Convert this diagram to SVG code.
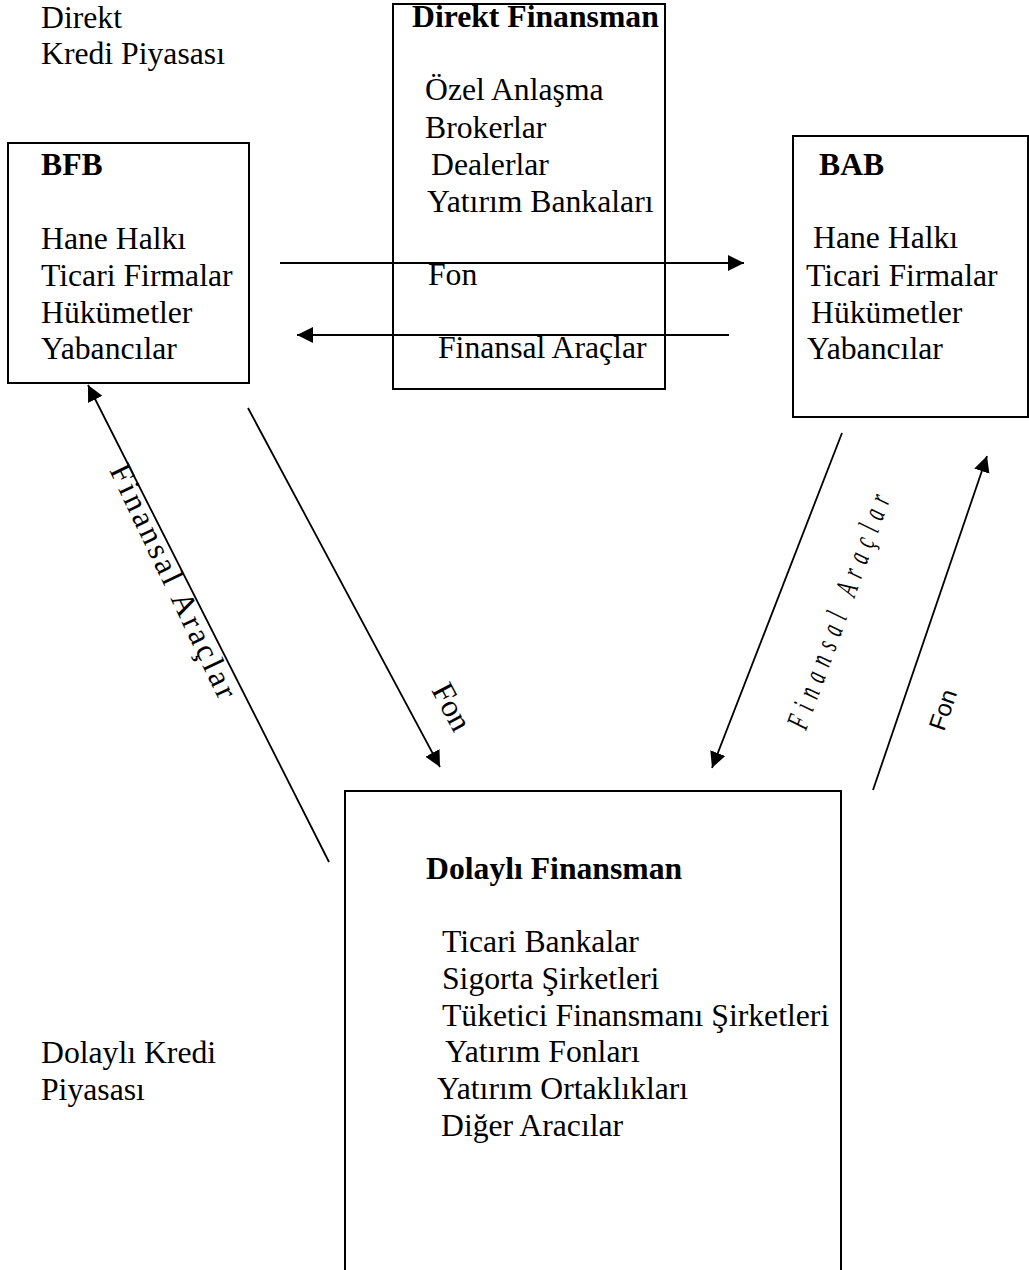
<svg xmlns="http://www.w3.org/2000/svg" width="1029" height="1270" viewBox="0 0 1029 1270">
<defs>
<style>
.t{font-family:"Liberation Serif","Times New Roman",serif;font-size:31.7px;fill:#000}
.b{font-weight:bold}
.box{fill:none;stroke:#000;stroke-width:2}
.c{fill:none;stroke:#000;stroke-width:1.8}
</style>
<marker id="ah" markerUnits="userSpaceOnUse" markerWidth="17" markerHeight="17" refX="16" refY="8" orient="auto" viewBox="0 0 17 16">
<path d="M0,0 L16,8 L0,16 Z" fill="#000"/>
</marker>
</defs>
<rect width="1029" height="1270" fill="#fff"/>

<g id="labels-top">
<text class="t" x="41" y="28">Direkt</text>
<text class="t" x="41" y="64">Kredi Piyasası</text>
</g>

<g id="bfb">
<rect class="box" x="8" y="143" width="241" height="240"/>
<text class="t b" x="41" y="175">BFB</text>
<text class="t" x="41" y="249">Hane Halkı</text>
<text class="t" x="41" y="286">Ticari Firmalar</text>
<text class="t" x="41" y="323">Hükümetler</text>
<text class="t" x="41" y="359">Yabancılar</text>
</g>

<g id="direkt">
<rect class="box" x="393" y="4" width="272" height="385"/>
<text class="t b" x="412" y="27">Direkt Finansman</text>
<text class="t" x="425" y="100">Özel Anlaşma</text>
<text class="t" x="425" y="138">Brokerlar</text>
<text class="t" x="431" y="175">Dealerlar</text>
<text class="t" x="427" y="212">Yatırım Bankaları</text>
<text class="t" x="428" y="285">Fon</text>
<text class="t" x="438" y="358">Finansal Araçlar</text>
</g>

<g id="bab">
<rect class="box" x="793" y="136" width="235" height="281"/>
<text class="t b" x="819" y="175">BAB</text>
<text class="t" x="813" y="248">Hane Halkı</text>
<text class="t" x="806" y="286">Ticari Firmalar</text>
<text class="t" x="811" y="323">Hükümetler</text>
<text class="t" x="807" y="359">Yabancılar</text>
</g>

<g id="dolayli">
<rect class="box" x="345" y="791" width="496" height="500"/>
<text class="t b" x="426" y="879">Dolaylı Finansman</text>
<text class="t" x="442" y="952">Ticari Bankalar</text>
<text class="t" x="442" y="989">Sigorta Şirketleri</text>
<text class="t" x="442" y="1026">Tüketici Finansmanı Şirketleri</text>
<text class="t" x="445" y="1062">Yatırım Fonları</text>
<text class="t" x="437" y="1099">Yatırım Ortaklıkları</text>
<text class="t" x="441" y="1136">Diğer Aracılar</text>
</g>

<g id="labels-bottom">
<text class="t" x="41" y="1063">Dolaylı Kredi</text>
<text class="t" x="41" y="1100">Piyasası</text>
</g>

<g id="connectors">
<line class="c" x1="280" y1="263" x2="744" y2="263" marker-end="url(#ah)"/>
<line class="c" x1="729" y1="335" x2="297" y2="335" marker-end="url(#ah)"/>
<line class="c" x1="329" y1="862" x2="88" y2="385" marker-end="url(#ah)"/>
<line class="c" x1="248" y1="408" x2="440" y2="767" marker-end="url(#ah)"/>
<line class="c" x1="842" y1="433" x2="712" y2="768" marker-end="url(#ah)"/>
<line class="c" x1="873" y1="790" x2="987" y2="456" marker-end="url(#ah)"/>
</g>

<g id="connector-labels">
<text class="t" x="0" y="0" transform="translate(109,470) rotate(64.5)" textLength="256" lengthAdjust="spacing">Finansal Araçlar</text>
<text class="t" x="0" y="0" transform="translate(431,690) rotate(62)">Fon</text>
<text class="t" x="0" y="0" font-style="italic" font-size="38" transform="translate(806,731) rotate(-70) scale(0.6,1)" textLength="412" lengthAdjust="spacing">Finansal Araçlar</text>
<text x="0" y="0" font-family="'Liberation Sans',Arial,sans-serif" font-size="24" transform="translate(944,732) rotate(-71)">Fon</text>
</g>
</svg>
